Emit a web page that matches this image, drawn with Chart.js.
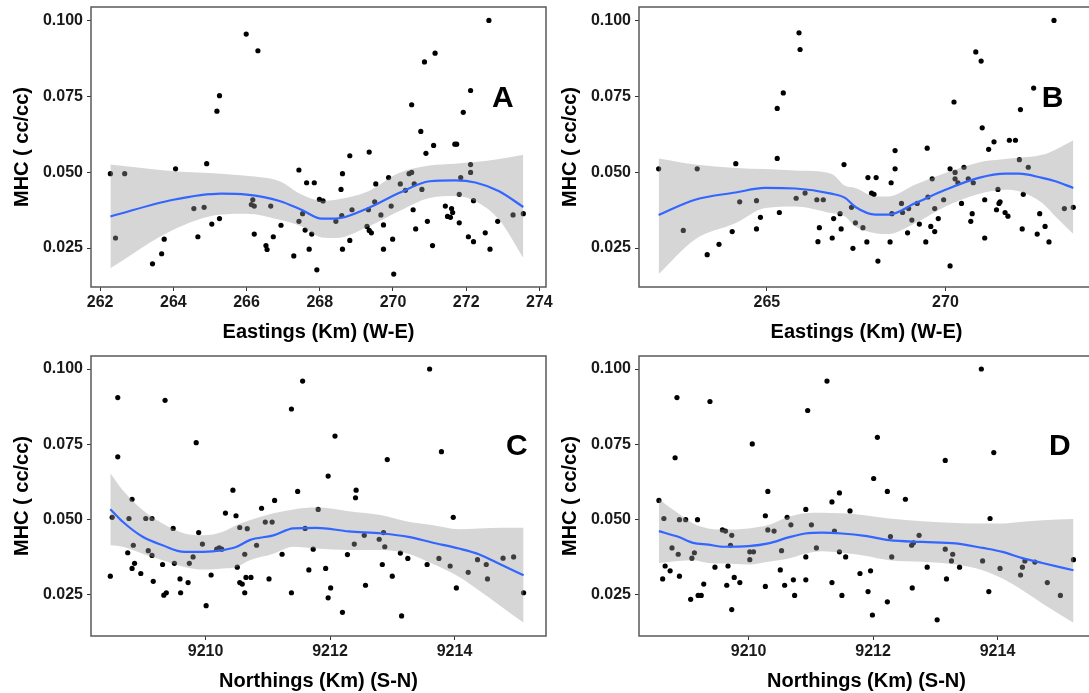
<!DOCTYPE html>
<html>
<head>
<meta charset="utf-8">
<title>MHC by Eastings and Northings</title>
<script src="https://cdn.jsdelivr.net/npm/chart.js@4.4.1/dist/chart.umd.min.js"></script>
<style>
    html, body { margin: 0; padding: 0; background: #fff; }
    #page { position: relative; width: 1089px; height: 693px; overflow: hidden; }
    #page canvas { position: absolute; }
</style>
</head>
<body>
<div id="page">
    <canvas id="chartA" width="560" height="345" style="left:0;top:0"></canvas>
    <canvas id="chartB" width="560" height="345" style="left:548px;top:0"></canvas>
    <canvas id="chartC" width="560" height="345" style="left:0;top:349px"></canvas>
    <canvas id="chartD" width="560" height="345" style="left:548px;top:349px"></canvas>
</div>
<script>
// ---- sample points, panel A (Eastings) ----
const eastA = [262.28, 262.42, 262.67, 263.43, 263.68, 263.75, 264.06, 264.56, 264.67, 264.84,
    264.91, 265.05, 265.19, 265.26, 265.26, 265.99, 266.31, 266.13, 266.17, 266.21,
    266.21, 266.53, 266.56, 266.66, 266.73, 266.94, 267.29, 267.43, 267.43, 267.53,
    267.60, 267.64, 267.71, 267.78, 267.85, 267.92, 267.99, 268.09, 268.44, 268.58,
    268.60, 268.62, 268.62, 268.82, 268.82, 268.88, 269.29, 269.33, 269.35, 269.35,
    269.41, 269.50, 269.53, 269.67, 269.74, 269.74, 269.88, 269.95, 269.99, 270.02,
    270.20, 270.34, 270.44, 270.51, 270.51, 270.55, 270.58, 270.62, 270.76, 270.79,
    270.86, 270.90, 270.94, 271.08, 271.11, 271.15, 271.43, 271.49, 271.57, 271.60,
    271.63, 271.69, 271.74, 271.81, 271.81, 271.85, 271.92, 272.06, 272.12, 272.12,
    272.12, 272.20, 272.20, 272.52, 272.62, 272.65, 272.86, 273.28, 273.56];
const mhcA = [0.0495, 0.0283, 0.0495, 0.0198, 0.0231, 0.0279, 0.0511, 0.0380, 0.0287, 0.0384,
    0.0528, 0.0329, 0.0701, 0.0752, 0.0347, 0.0955, 0.0900, 0.0393, 0.0409, 0.0388,
    0.0296, 0.0258, 0.0245, 0.0388, 0.0287, 0.0325, 0.0224, 0.0507, 0.0338, 0.0363,
    0.0309, 0.0465, 0.0246, 0.0296, 0.0465, 0.0178, 0.0410, 0.0405, 0.0338, 0.0443,
    0.0357, 0.0495, 0.0246, 0.0554, 0.0275, 0.0376, 0.0321, 0.0376, 0.0566, 0.0308,
    0.0300, 0.0402, 0.0461, 0.0359, 0.0326, 0.0246, 0.0482, 0.0388, 0.0279, 0.0164,
    0.0461, 0.0440, 0.0495, 0.0499, 0.0722, 0.0376, 0.0461, 0.0313, 0.0634, 0.0443,
    0.0863, 0.0562, 0.0338, 0.0258, 0.0588, 0.0892, 0.0388, 0.0354, 0.0351, 0.0380,
    0.0367, 0.0592, 0.0592, 0.0427, 0.0333, 0.0482, 0.0697, 0.0287, 0.0769, 0.0525,
    0.0499, 0.0406, 0.0271, 0.0300, 0.1000, 0.0246, 0.0338, 0.0359, 0.0363];

// loess fit + 95% band, panel A
const smoothXA = [262.28, 264.0, 265.3, 266.0, 266.9, 267.5, 268.05, 268.44, 269.33, 270.16, 271.0, 271.7, 272.25, 272.9, 273.56];
const fitA  = [0.0354, 0.0409, 0.0429, 0.0426, 0.0405, 0.0376, 0.0347, 0.0347, 0.0382, 0.0431, 0.0470, 0.0473, 0.0466, 0.0437, 0.0385];
const highA = [0.0525, 0.0503, 0.0495, 0.0488, 0.0470, 0.0426, 0.0406, 0.0409, 0.0437, 0.0497, 0.0522, 0.0528, 0.0533, 0.0543, 0.0557];
const lowA  = [0.0183, 0.0310, 0.0360, 0.0363, 0.0343, 0.0321, 0.0285, 0.0283, 0.0321, 0.0371, 0.0415, 0.0421, 0.0404, 0.0343, 0.0217];

// ---- panel B (Eastings, second set) ----
const eastB = [261.97, 262.66, 263.05, 263.33, 263.66, 264.03, 264.13, 264.24, 264.71, 264.71,
    264.82, 265.29, 265.46, 265.29, 265.35, 265.90, 265.93, 265.82, 266.07, 266.40,
    266.58, 266.47, 266.43, 266.83, 266.87, 267.08, 267.16, 267.05, 267.37, 267.41,
    267.48, 267.69, 267.80, 267.83, 268.06, 267.93, 268.00, 268.11, 268.45, 268.48,
    268.59, 268.59, 268.50, 268.77, 268.80, 268.94, 268.97, 269.06, 269.21, 269.27,
    269.45, 269.49, 269.51, 269.59, 269.63, 269.70, 269.70, 269.80, 269.95, 270.13,
    270.13, 270.24, 270.27, 270.27, 270.35, 270.45, 270.52, 270.64, 270.71, 270.75,
    270.78, 270.85, 271.00, 271.03, 271.10, 271.10, 271.21, 271.36, 271.43, 271.47,
    271.50, 271.53, 271.67, 271.75, 271.79, 271.96, 272.07, 272.10, 272.15, 272.18,
    272.32, 272.47, 272.57, 272.64, 272.79, 272.90, 273.04, 273.33, 273.58];
const mhcB = [0.0511, 0.0308, 0.0511, 0.0228, 0.0262, 0.0304, 0.0528, 0.0402, 0.0406, 0.0313,
    0.0351, 0.0710, 0.0761, 0.0545, 0.0367, 0.0959, 0.0904, 0.0414, 0.0431, 0.0409,
    0.0409, 0.0317, 0.0271, 0.0283, 0.0347, 0.0313, 0.0525, 0.0363, 0.0384, 0.0249,
    0.0333, 0.0317, 0.0270, 0.0482, 0.0482, 0.0431, 0.0427, 0.0207, 0.0270, 0.0465,
    0.0571, 0.0511, 0.0363, 0.0397, 0.0367, 0.0300, 0.0380, 0.0342, 0.0397, 0.0329,
    0.0270, 0.0579, 0.0418, 0.0321, 0.0478, 0.0304, 0.0380, 0.0347, 0.0409, 0.0511,
    0.0191, 0.0731, 0.0499, 0.0478, 0.0465, 0.0397, 0.0516, 0.0478, 0.0338, 0.0363,
    0.0465, 0.0896, 0.0866, 0.0646, 0.0409, 0.0283, 0.0575, 0.0600, 0.0376, 0.0443,
    0.0397, 0.0402, 0.0367, 0.0355, 0.0605, 0.0605, 0.0541, 0.0706, 0.0313, 0.0427,
    0.0516, 0.0777, 0.0296, 0.0363, 0.0321, 0.0270, 0.1000, 0.0380, 0.0384];

const smoothXB = [261.97, 262.99, 264.13, 264.95, 265.8, 266.8, 267.19, 267.48, 268.04, 268.41, 269.16, 270.0, 270.93, 271.68, 272.06, 272.71, 273.08, 273.58];
const fitB  = [0.0359, 0.0409, 0.0433, 0.0448, 0.0446, 0.0429, 0.0415, 0.0385, 0.0360, 0.0360, 0.0398, 0.0442, 0.0481, 0.0495, 0.0495, 0.0481, 0.0470, 0.0448];
const highB = [0.0545, 0.0525, 0.0514, 0.0510, 0.0505, 0.0495, 0.0455, 0.0448, 0.0420, 0.0420, 0.0459, 0.0497, 0.0532, 0.0543, 0.0547, 0.0557, 0.0574, 0.0605];
const lowB  = [0.0164, 0.0278, 0.0332, 0.0382, 0.0387, 0.0365, 0.0354, 0.0321, 0.0299, 0.0296, 0.0332, 0.0387, 0.0428, 0.0442, 0.0437, 0.0398, 0.0354, 0.0296];

// ---- panel C (Northings) ----
const northC = [9208.47, 9208.50, 9208.59, 9208.59, 9208.75, 9208.77, 9208.82, 9208.82, 9208.84, 9208.86,
    9208.96, 9209.04, 9209.08, 9209.14, 9209.14, 9209.16, 9209.31, 9209.33, 9209.35, 9209.37,
    9209.48, 9209.50, 9209.59, 9209.60, 9209.72, 9209.74, 9209.80, 9209.85, 9209.89, 9209.95,
    9210.01, 9210.09, 9210.18, 9210.22, 9210.26, 9210.32, 9210.44, 9210.49, 9210.51, 9210.55,
    9210.55, 9210.59, 9210.63, 9210.63, 9210.65, 9210.67, 9210.73, 9210.82, 9210.90, 9210.96,
    9211.02, 9211.07, 9211.11, 9211.23, 9211.38, 9211.38, 9211.48, 9211.56, 9211.60, 9211.66,
    9211.73, 9211.81, 9211.93, 9211.97, 9211.97, 9212.01, 9212.08, 9212.20, 9212.28, 9212.39,
    9212.41, 9212.42, 9212.55, 9212.57, 9212.79, 9212.84, 9212.86, 9212.88, 9212.92, 9213.00,
    9213.13, 9213.15, 9213.25, 9213.56, 9213.60, 9213.75, 9213.79, 9213.93, 9213.98, 9214.03,
    9214.22, 9214.37, 9214.51, 9214.53, 9214.78, 9214.95, 9215.11];
const mhcC = [0.0311, 0.0507, 0.0905, 0.0708, 0.0389, 0.0503, 0.0567, 0.0337, 0.0414, 0.0354,
    0.0320, 0.0503, 0.0396, 0.0503, 0.0380, 0.0294, 0.0350, 0.0248, 0.0896, 0.0256,
    0.0470, 0.0354, 0.0302, 0.0256, 0.0290, 0.0354, 0.0375, 0.0755, 0.0456, 0.0418,
    0.0213, 0.0315, 0.0401, 0.0405, 0.0401, 0.0521, 0.0597, 0.0512, 0.0341, 0.0473,
    0.0290, 0.0285, 0.0384, 0.0256, 0.0307, 0.0469, 0.0307, 0.0414, 0.0537, 0.0491,
    0.0302, 0.0491, 0.0563, 0.0384, 0.0867, 0.0256, 0.0593, 0.0960, 0.0470, 0.0332,
    0.0401, 0.0533, 0.0337, 0.0644, 0.0239, 0.0272, 0.0777, 0.0191, 0.0383, 0.0418,
    0.0572, 0.0597, 0.0447, 0.0281, 0.0434, 0.0350, 0.0456, 0.0409, 0.0699, 0.0311,
    0.0388, 0.0179, 0.0370, 0.0350, 0.1000, 0.0370, 0.0725, 0.0345, 0.0507, 0.0272,
    0.0324, 0.0366, 0.0350, 0.0302, 0.0371, 0.0375, 0.0256];

const smoothXC = [9208.47, 9208.67, 9208.99, 9209.31, 9209.66, 9209.96, 9210.28, 9210.50, 9210.71, 9211.09,
    9211.41, 9211.78, 9212.30, 9212.83, 9213.26, 9213.64, 9214.07, 9214.39, 9214.76, 9215.11];
const fitC  = [0.0534, 0.0492, 0.0442, 0.0414, 0.0392, 0.0392, 0.0398, 0.0409, 0.0431, 0.0447,
    0.0470, 0.0472, 0.0460, 0.0453, 0.0442, 0.0423, 0.0403, 0.0384, 0.0348, 0.0314];
const highC = [0.0653, 0.0597, 0.0531, 0.0486, 0.0453, 0.0447, 0.0459, 0.0481, 0.0497, 0.0520,
    0.0533, 0.0540, 0.0527, 0.0514, 0.0492, 0.0481, 0.0467, 0.0470, 0.0472, 0.0472];
const lowC  = [0.0414, 0.0409, 0.0386, 0.0364, 0.0342, 0.0333, 0.0337, 0.0342, 0.0364, 0.0386,
    0.0409, 0.0403, 0.0398, 0.0398, 0.0386, 0.0353, 0.0309, 0.0264, 0.0209, 0.0156];

// ---- panel D (Northings, second set) ----
const northD = [9208.56, 9208.62, 9208.64, 9208.66, 9208.74, 9208.77, 9208.82, 9208.85, 9208.87, 9208.89,
    9208.89, 9208.99, 9209.07, 9209.09, 9209.13, 9209.18, 9209.19, 9209.24, 9209.28, 9209.38,
    9209.46, 9209.58, 9209.63, 9209.65, 9209.67, 9209.71, 9209.73, 9209.73, 9209.77, 9209.86,
    9210.02, 9210.02, 9210.06, 9210.08, 9210.27, 9210.27, 9210.31, 9210.31, 9210.41, 9210.51,
    9210.53, 9210.58, 9210.62, 9210.68, 9210.72, 9210.74, 9210.92, 9210.92, 9210.92, 9210.95,
    9211.01, 9211.09, 9211.26, 9211.34, 9211.34, 9211.38, 9211.46, 9211.46, 9211.50, 9211.56,
    9211.63, 9211.79, 9211.92, 9211.96, 9211.99, 9212.01, 9212.07, 9212.23, 9212.23, 9212.28,
    9212.30, 9212.52, 9212.62, 9212.63, 9212.65, 9212.74, 9212.87, 9213.03, 9213.16, 9213.16,
    9213.18, 9213.26, 9213.28, 9213.39, 9213.74, 9213.76, 9213.86, 9213.88, 9213.94, 9214.04,
    9214.37, 9214.40, 9214.44, 9214.60, 9214.80, 9215.01, 9215.22];
const mhcD = [0.0563, 0.0302, 0.0503, 0.0345, 0.0329, 0.0405, 0.0705, 0.0905, 0.0384, 0.0499,
    0.0311, 0.0499, 0.0234, 0.0371, 0.0389, 0.0499, 0.0247, 0.0247, 0.0285, 0.0892,
    0.0341, 0.0465, 0.0461, 0.0281, 0.0345, 0.0414, 0.0447, 0.0200, 0.0307, 0.0290,
    0.0366, 0.0392, 0.0751, 0.0392, 0.0512, 0.0277, 0.0593, 0.0465, 0.0461, 0.0332,
    0.0396, 0.0281, 0.0507, 0.0482, 0.0299, 0.0247, 0.0533, 0.0375, 0.0299, 0.0862,
    0.0482, 0.0405, 0.0960, 0.0558, 0.0290, 0.0461, 0.0588, 0.0392, 0.0247, 0.0375,
    0.0528, 0.0320, 0.0260, 0.0329, 0.0182, 0.0636, 0.0773, 0.0593, 0.0226, 0.0443,
    0.0375, 0.0567, 0.0414, 0.0272, 0.0422, 0.0447, 0.0341, 0.0166, 0.0696, 0.0401,
    0.0302, 0.0362, 0.0384, 0.0341, 0.1000, 0.0362, 0.0260, 0.0503, 0.0722, 0.0337,
    0.0315, 0.0341, 0.0362, 0.0358, 0.0290, 0.0247, 0.0366];

const smoothXD = [9208.56, 9208.87, 9209.11, 9209.35, 9209.60, 9210.0, 9210.32, 9210.64, 9210.91, 9211.18,
    9211.50, 9211.87, 9212.26, 9212.79, 9213.33, 9213.76, 9214.08, 9214.40, 9214.72, 9215.22];
const fitD  = [0.0461, 0.0442, 0.0422, 0.0416, 0.0409, 0.0411, 0.0420, 0.0440, 0.0453, 0.0456,
    0.0453, 0.0445, 0.0431, 0.0425, 0.0420, 0.0405, 0.0392, 0.0371, 0.0355, 0.0331];
const highD = [0.0567, 0.0520, 0.0486, 0.0470, 0.0466, 0.0470, 0.0481, 0.0508, 0.0520, 0.0522,
    0.0520, 0.0514, 0.0503, 0.0494, 0.0488, 0.0486, 0.0486, 0.0492, 0.0497, 0.0501];
const lowD  = [0.0355, 0.0362, 0.0364, 0.0355, 0.0353, 0.0350, 0.0359, 0.0370, 0.0386, 0.0394,
    0.0389, 0.0379, 0.0364, 0.0359, 0.0350, 0.0331, 0.0303, 0.0264, 0.0220, 0.0156];

// tick labels
const mhcTicks = [0.025, 0.050, 0.075, 0.100];
const eastTicksA = [262, 264, 266, 268, 270, 272, 274];
const eastTicksB = [265, 270];
const northTicks = [9210, 9212, 9214];

const FONT = '"Liberation Sans", Arial, Helvetica, sans-serif';

function pairs(xs, ys) {
    return xs.map((x, i) => ({ x: x, y: ys[i] }));
}

/**
 * Draws the grey panel frame and the big panel letter
 */
const panelFrame = {
    id: 'panelFrame',
    afterDatasetsDraw(chart, args, opts) {
        const { ctx, chartArea: a, scales } = chart;
        ctx.save();
        ctx.strokeStyle = '#595959';
        ctx.lineWidth = 1.5;
        ctx.strokeRect(a.left, a.top, a.right - a.left, a.bottom - a.top);
        ctx.font = 'bold 30px ' + FONT;
        ctx.fillStyle = '#000';
        ctx.textAlign = 'center';
        ctx.textBaseline = 'alphabetic';
        const px = scales.x.getPixelForValue(opts.letterX);
        const py = scales.y.getPixelForValue(opts.letterY);
        ctx.fillText(opts.letter, px, py + 11);
        ctx.restore();
    }
};

/**
 * One scatter panel with loess line and confidence ribbon
 */
function makePanel(canvasId, p) {
    const ctx = document.getElementById(canvasId).getContext('2d');
    return new Chart(ctx, {
        type: 'scatter',
        data: {
            datasets: [
                {
                    data: pairs(p.xs, p.ys),
                    backgroundColor: '#000',
                    borderWidth: 0,
                    pointRadius: 2.6,
                    order: 3
                },
                {
                    type: 'line',
                    data: pairs(p.sx, p.low),
                    borderColor: 'rgba(0,0,0,0)',
                    borderWidth: 0,
                    pointRadius: 0,
                    fill: false,
                    cubicInterpolationMode: 'monotone',
                    order: 2
                },
                {
                    type: 'line',
                    data: pairs(p.sx, p.high),
                    borderColor: 'rgba(0,0,0,0)',
                    borderWidth: 0,
                    pointRadius: 0,
                    fill: '-1',
                    backgroundColor: 'rgba(153,153,153,0.4)',
                    cubicInterpolationMode: 'monotone',
                    order: 2
                },
                {
                    type: 'line',
                    data: pairs(p.sx, p.fit),
                    borderColor: '#3366FF',
                    borderWidth: 2.2,
                    pointRadius: 0,
                    fill: false,
                    cubicInterpolationMode: 'monotone',
                    order: 1
                }
            ]
        },
        options: {
            responsive: false,
            animation: false,
            events: [],
            layout: { padding: { top: 7, right: 14, bottom: 0, left: 0 } },
            plugins: {
                legend: { display: false },
                tooltip: { enabled: false },
                panelFrame: { letter: p.letter, letterX: p.letterX, letterY: 0.075 }
            },
            scales: {
                x: {
                    type: 'linear',
                    min: p.xMin,
                    max: p.xMax,
                    afterBuildTicks: (s) => { s.ticks = p.xTicks.map(v => ({ value: v })); },
                    afterFit: (s) => { s.height = 58; s.paddingLeft = 0; s.paddingRight = 0; },
                    grid: { drawOnChartArea: false, drawTicks: true, tickLength: 4, color: '#333' },
                    border: { display: false },
                    ticks: {
                        autoSkip: false,
                        maxRotation: 0,
                        padding: 2,
                        color: '#1a1a1a',
                        font: { family: FONT, size: 16, weight: 'bold' },
                        callback: (v) => String(v)
                    },
                    title: {
                        display: true,
                        text: p.xTitle,
                        color: '#000',
                        padding: { top: 0, bottom: 1 },
                        font: { family: FONT, size: 20, weight: 'bold' }
                    }
                },
                y: {
                    min: p.yMin,
                    max: p.yMax,
                    afterBuildTicks: (s) => { s.ticks = mhcTicks.map(v => ({ value: v })); },
                    afterFit: (s) => { s.width = 91; s.paddingTop = 0; s.paddingBottom = 0; },
                    grid: { drawOnChartArea: false, drawTicks: true, tickLength: 4, color: '#333' },
                    border: { display: false },
                    ticks: {
                        autoSkip: false,
                        padding: 4,
                        color: '#1a1a1a',
                        font: { family: FONT, size: 16, weight: 'bold' },
                        callback: (v) => Number(v).toFixed(3)
                    },
                    title: {
                        display: true,
                        text: 'MHC ( cc/cc)',
                        color: '#000',
                        padding: { top: 10, bottom: 0 },
                        font: { family: FONT, size: 20, weight: 'bold' }
                    }
                }
            }
        },
        plugins: [panelFrame]
    });
}

makePanel('chartA', {
    xs: eastA, ys: mhcA, sx: smoothXA, fit: fitA, low: lowA, high: highA,
    xMin: 261.75, xMax: 274.18, yMin: 0.01215, yMax: 0.10441,
    xTicks: eastTicksA, xTitle: 'Eastings (Km) (W-E)', letter: 'A', letterX: 273.0
});

makePanel('chartB', {
    xs: eastB, ys: mhcB, sx: smoothXB, fit: fitB, low: lowB, high: highB,
    xMin: 261.42, xMax: 274.16, yMin: 0.01215, yMax: 0.10441,
    xTicks: eastTicksB, xTitle: 'Eastings (Km) (W-E)', letter: 'B', letterX: 273.0
});

makePanel('chartC', {
    xs: northC, ys: mhcC, sx: smoothXC, fit: fitC, low: lowC, high: highC,
    xMin: 9208.16, xMax: 9215.47, yMin: 0.01122, yMax: 0.10433,
    xTicks: northTicks, xTitle: 'Northings (Km) (S-N)', letter: 'C', letterX: 9215.0
});

makePanel('chartD', {
    xs: northD, ys: mhcD, sx: smoothXD, fit: fitD, low: lowD, high: highD,
    xMin: 9208.24, xMax: 9215.55, yMin: 0.01122, yMax: 0.10433,
    xTicks: northTicks, xTitle: 'Northings (Km) (S-N)', letter: 'D', letterX: 9215.0
});
</script>
</body>
</html>
